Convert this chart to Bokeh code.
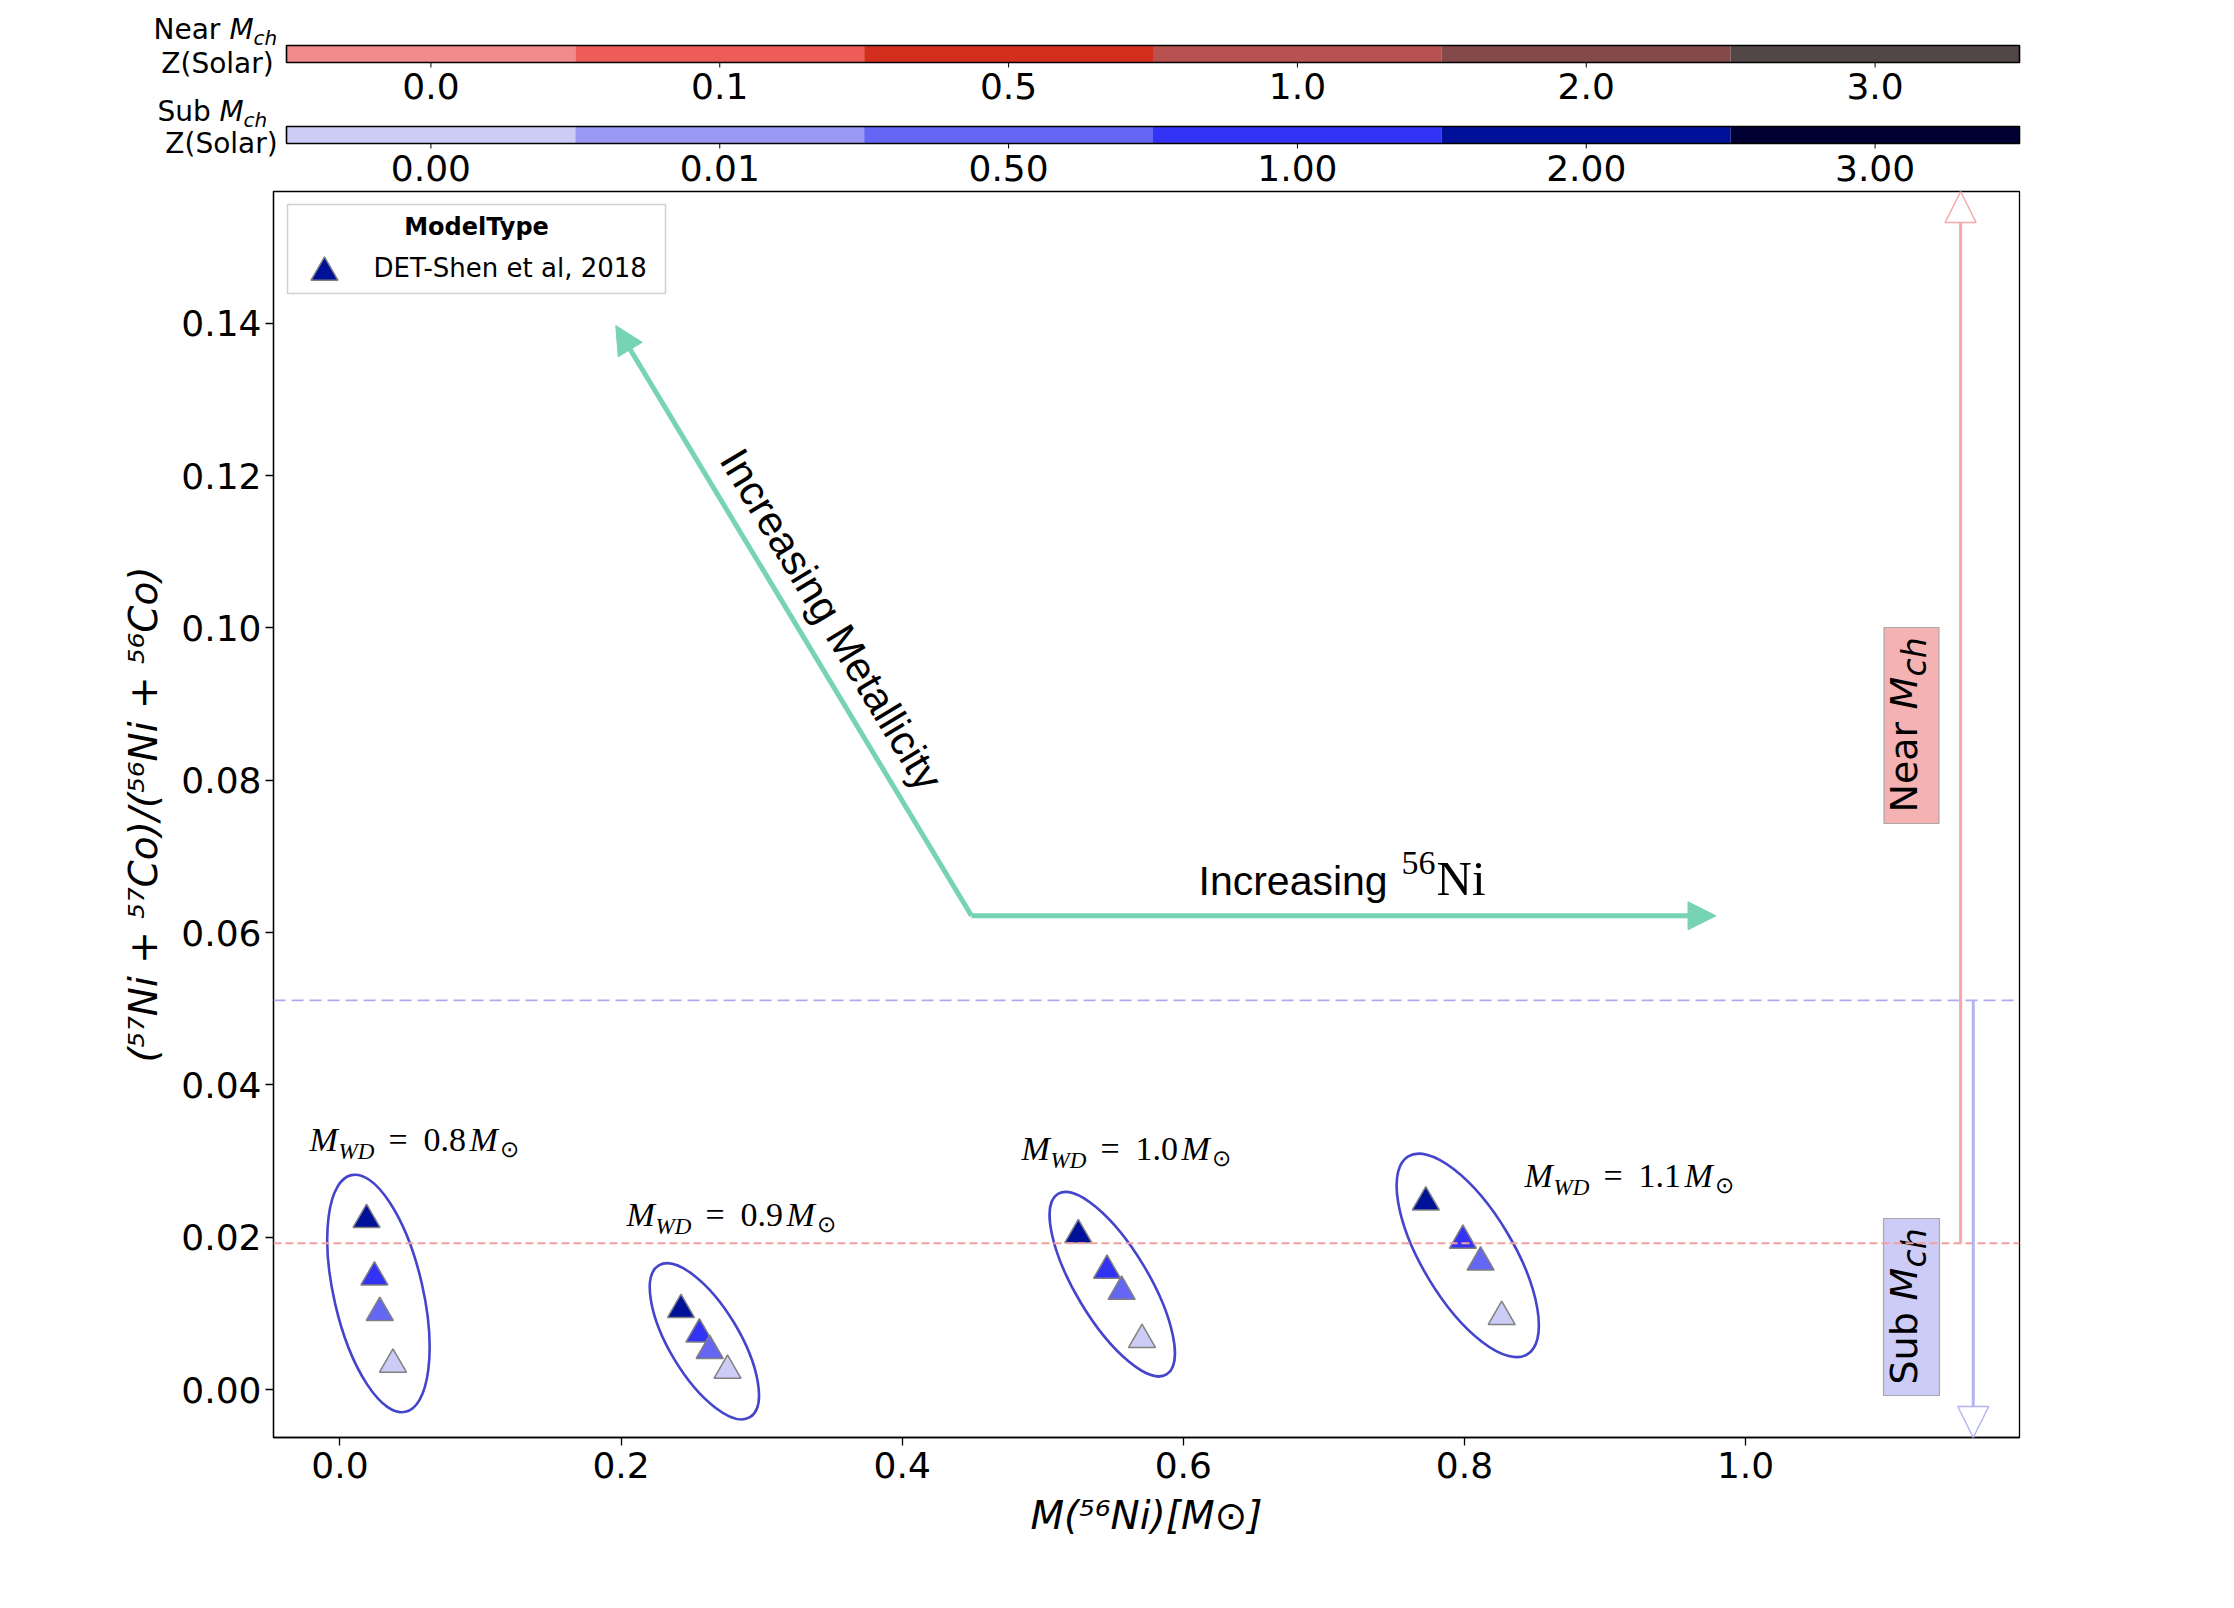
import math
from bokeh.plotting import figure
from bokeh.models import (Range1d, ColumnDataSource, Span, Arrow, NormalHead,
                          FixedTicker, PrintfTickFormatter)
from bokeh.core.properties import value
from bokeh.embed import file_html
from bokeh.resources import INLINE

# ---------------- data ----------------
mwd_labels = ["0.8", "0.9", "1.0", "1.1"]
ni56_mwd08 = [0.0189, 0.0245, 0.0283, 0.0377]
ratio_mwd08 = [0.0223, 0.01475, 0.0101, 0.0033]
ni56_mwd09 = [0.2426, 0.2557, 0.2630, 0.2757]
ratio_mwd09 = [0.01047, 0.00725, 0.0051, 0.0025]
ni56_mwd10 = [0.5253, 0.5457, 0.5561, 0.5706]
ratio_mwd10 = [0.0203, 0.01563, 0.01287, 0.00653]
ni56_mwd11 = [0.7725, 0.7989, 0.8115, 0.8265]
ratio_mwd11 = [0.0246, 0.01957, 0.0167, 0.00956]
z_solar_points = [2.0, 1.0, 0.5, 0.0]   # metallicity of the 4 models in each group

near_z_ticks = ["0.0", "0.1", "0.5", "1.0", "2.0", "3.0"]
near_colors = ["#F08C8C", "#EE5C58", "#D42E1E", "#B85250", "#844A4A", "#524646"]
sub_z_values = [0.0, 0.01, 0.5, 1.0, 2.0, 3.0]
sub_z_ticks = ["0.00", "0.01", "0.50", "1.00", "2.00", "3.00"]
sub_colors = ["#CCCCF7", "#9999F5", "#6666F5", "#3333F5", "#001199", "#000033"]

near_mch_ratio = 0.0192
sub_mch_ratio = 0.0511
near_arrow_x = 1.153
sub_arrow_x = 1.162

metal_arrow_start = (0.4493, 0.0622)
metal_arrow_end = (0.1962, 0.1397)
ni_arrow_end = (0.979, 0.0622)

x_ticks = [0.0, 0.2, 0.4, 0.6, 0.8, 1.0]
y_ticks = [0.00, 0.02, 0.04, 0.06, 0.08, 0.10, 0.12, 0.14]
X0, X1 = -0.0473, 1.1949
Y0, Y1 = -0.0063, 0.1573

legend_label = "DET-Shen et al, 2018"
legend_title = "ModelType"

# ---------------- page geometry (page px) ----------------
FIG_W = 2218
HDR_H = 190
L, R, T, B = 273, 2019, 191, 1437          # main frame
BAR_L, BAR_R = 286, 2019                   # colour bars
MID = 0.345                                # baseline -> middle shift (in em)

SANS = "DejaVu Sans"
SERIF = "Liberation Serif"
ARIAL = "Liberation Sans"


def px2d(px, py):
    x = X0 + (px - L) / (R - L) * (X1 - X0)
    y = Y1 - (py - T) / (B - T) * (Y1 - Y0)
    return x, y


def add_text(fig, pieces, font, angle=0.0, align="left"):
    # pieces: (x, y, text, xoff, baseline_yoff, size_px, style)
    src = ColumnDataSource(dict(
        x=[q[0] for q in pieces], y=[q[1] for q in pieces], text=[q[2] for q in pieces],
        xo=[q[3] for q in pieces], yo=[q[4] - MID * q[5] for q in pieces],
        fs=["%dpx" % q[5] for q in pieces], st=[q[6] for q in pieces]))
    fig.text(x="x", y="y", text="text", x_offset="xo", y_offset="yo", source=src,
             text_font=value(font), text_font_size="fs", text_font_style="st",
             text_align=align, text_baseline="middle", angle=angle, text_color="black")


# ---------------- header with the two colour bars (frame = whole canvas) ----------------
seg = (BAR_R - BAR_L) / 6.0
hdr = figure(width=FIG_W, height=HDR_H,
             x_range=Range1d(-0.5 - BAR_L / seg, 5.5 + (FIG_W - BAR_R) / seg),
             y_range=Range1d(HDR_H, 0),
             x_axis_location=None, y_axis_location=None, min_border=0,
             output_backend="svg", toolbar_location=None)
hdr.grid.visible = False
hdr.outline_line_color = None

idx = list(range(len(near_colors)))
bar_h = 17
red_y, blue_y = 53.5, 134.5
hdr.rect(x=idx, y=red_y, width=1, height=bar_h, fill_color=near_colors, line_color=None)
hdr.rect(x=idx, y=blue_y, width=1, height=bar_h, fill_color=sub_colors, line_color=None)
for yc in (red_y, blue_y):
    hdr.rect(x=2.5, y=yc, width=6, height=bar_h, fill_color=None, line_color="black", line_width=1.6)
    hdr.segment(x0=idx, y0=yc + bar_h / 2, x1=idx, y1=yc + bar_h / 2 + 5, line_color="black", line_width=1)
hdr.text(x=idx, y=98 - MID * 36, text=near_z_ticks, text_align="center", text_baseline="middle",
         text_font=value(SANS), text_font_size="36px", text_color="black")
hdr.text(x=idx, y=180 - MID * 36, text=sub_z_ticks, text_align="center", text_baseline="middle",
         text_font=value(SANS), text_font_size="36px", text_color="black")


def hx(px):
    return -0.5 + (px - BAR_L) / seg


hdr_pieces_left = []
hdr_pieces_center = []
for (px, base, txt, fs, st, al) in [(153, 39, "Near", 28, "normal", "left"),
                                    (229, 39, "M", 28, "italic", "left"),
                                    (253, 44, "ch", 20, "italic", "left"),
                                    (217, 73, "Z(Solar)", 28, "normal", "center"),
                                    (157, 121, "Sub", 28, "normal", "left"),
                                    (219, 121, "M", 28, "italic", "left"),
                                    (243, 126, "ch", 20, "italic", "left"),
                                    (221, 153, "Z(Solar)", 28, "normal", "center")]:
    piece = (hx(px), base - MID * fs, txt, 0, 0, fs, st)
    (hdr_pieces_left if al == "left" else hdr_pieces_center).append(piece)


def add_hdr_text(pieces, align):
    src = ColumnDataSource(dict(x=[q[0] for q in pieces], y=[q[1] for q in pieces],
                                text=[q[2] for q in pieces], fs=["%dpx" % q[5] for q in pieces],
                                st=[q[6] for q in pieces]))
    hdr.text(x="x", y="y", text="text", source=src, text_font=value(SANS), text_font_size="fs",
             text_font_style="st", text_align=align, text_baseline="middle", text_color="black")


add_hdr_text(hdr_pieces_left, "left")
add_hdr_text(hdr_pieces_center, "center")

# ---------------- main plot ----------------
p = figure(frame_width=R - L, frame_height=B - T, x_range=Range1d(X0, X1), y_range=Range1d(Y0, Y1),
           min_border_left=L, min_border_right=FIG_W - R, min_border_top=T - HDR_H,
           min_border_bottom=160, output_backend="svg", toolbar_location=None)
p.grid.visible = False
p.outline_line_color = "black"
p.outline_line_width = 1.3
p.xaxis.ticker = FixedTicker(ticks=x_ticks)
p.xaxis.formatter = PrintfTickFormatter(format="%.1f")
p.yaxis.ticker = FixedTicker(ticks=y_ticks)
p.yaxis.formatter = PrintfTickFormatter(format="%.2f")
p.xaxis.axis_label = "M(\u2075\u2076Ni)[M\u2299]"
p.yaxis.axis_label = "(\u2075\u2077Ni + \u2075\u2077Co)/(\u2075\u2076Ni + \u2075\u2076Co)"
for ax in (p.xaxis[0], p.yaxis[0]):
    ax.major_label_text_font = SANS
    ax.major_label_text_font_size = "36px"
    ax.major_label_text_color = "black"
    ax.axis_label_text_font = SANS
    ax.axis_label_text_font_size = "39px"
    ax.axis_label_text_font_style = "italic"
    ax.axis_label_text_color = "black"
    ax.major_tick_out = 8
    ax.major_tick_in = 0
    ax.minor_tick_out = 0
    ax.minor_tick_in = 0
    ax.axis_line_color = "black"
    ax.axis_line_width = 1.3
    ax.major_tick_line_width = 1.3
p.xaxis.major_label_standoff = 6
p.yaxis.major_label_standoff = 4
p.xaxis.axis_label_standoff = 12
p.yaxis.axis_label_standoff = 12

# threshold lines
p.add_layout(Span(location=near_mch_ratio, dimension="width", line_color="#F2A0A0",
                  line_dash="8 4", line_width=2))
p.add_layout(Span(location=sub_mch_ratio, dimension="width", line_color="#ABABEE",
                  line_dash="12 6", line_width=1.6))

# grouping ellipses (centred on each group's mean)
groups_x = [ni56_mwd08, ni56_mwd09, ni56_mwd10, ni56_mwd11]
groups_y = [ratio_mwd08, ratio_mwd09, ratio_mwd10, ratio_mwd11]
ell_w = [89, 70, 73, 91]
ell_h = [243, 177, 211, 231]
ell_a = [math.radians(12.9), math.radians(31), math.radians(31), math.radians(31)]
p.ellipse(x=[sum(g) / len(g) for g in groups_x], y=[sum(g) / len(g) for g in groups_y],
          width=ell_w, height=ell_h, angle=ell_a, width_units="screen", height_units="screen",
          fill_color=None, line_color="#4444CC", line_width=2.6)

# model points
pts_x, pts_y, pts_c = [], [], []
for gx, gy in zip(groups_x, groups_y):
    for xv, yv, zv in zip(gx, gy, z_solar_points):
        pts_x.append(xv)
        pts_y.append(yv)
        pts_c.append(sub_colors[sub_z_values.index(zv)])
p.scatter(x=pts_x, y=pts_y, marker="triangle", size=27, fill_color=pts_c,
          line_color="#808080", line_width=1.5)

# Near / Sub Mch arrows
p.add_layout(Arrow(end=NormalHead(size=31, fill_color="white", line_color="#F4A8A8", line_width=1.5),
                   x_start=near_arrow_x, y_start=near_mch_ratio, x_end=near_arrow_x, y_end=Y1,
                   line_color="#F4A8A8", line_width=3))
p.add_layout(Arrow(end=NormalHead(size=31, fill_color="white", line_color="#B4B4F4", line_width=1.5),
                   x_start=sub_arrow_x, y_start=sub_mch_ratio, x_end=sub_arrow_x, y_end=Y0,
                   line_color="#B4B4F4", line_width=3))

# Near / Sub Mch boxes
bx, by = px2d(1911, 725)
p.rect(x=bx, y=by, width=55, height=196, width_units="screen", height_units="screen",
       fill_color="#F4B2B2", line_color="#A8A8A8", line_width=1.2)
bx2, by2 = px2d(1911, 1306.5)
p.rect(x=bx2, y=by2, width=56, height=177, width_units="screen", height_units="screen",
       fill_color="#CCCCF6", line_color="#A8A8A8", line_width=1.2)
rot = []
for (px, py, txt, fs, st) in [(1917, 812, "Near", 38, "normal"), (1917, 709, "M", 38, "italic"),
                              (1925, 676, "ch", 33, "italic"),
                              (1917, 1384, "Sub", 38, "normal"), (1917, 1300, "M", 38, "italic"),
                              (1925, 1267, "ch", 33, "italic")]:
    dx, dy = px2d(px - MID * fs, py)
    rot.append((dx, dy, txt, 0, MID * fs, fs, st))
add_text(p, rot, SANS, angle=math.pi / 2)

# trend arrows
green = "#76D3B3"
p.add_layout(Arrow(end=NormalHead(size=28, fill_color=green, line_color=green),
                   x_start=metal_arrow_start[0], y_start=metal_arrow_start[1],
                   x_end=metal_arrow_end[0], y_end=metal_arrow_end[1],
                   line_color=green, line_width=5))
p.add_layout(Arrow(end=NormalHead(size=28, fill_color=green, line_color=green),
                   x_start=metal_arrow_start[0], y_start=metal_arrow_start[1],
                   x_end=ni_arrow_end[0], y_end=ni_arrow_end[1],
                   line_color=green, line_width=5))
mx, my = px2d(831, 619)
p.text(x=[mx], y=[my], text=["Increasing Metallicity"], angle=-math.radians(58.9),
       text_align="center", text_baseline="middle", text_font=value(ARIAL),
       text_font_size="42px", text_color="black")
ix, iy = px2d(1198, 895)
add_text(p, [(ix, iy, "Increasing", 0, 0, 41, "normal")], ARIAL)
add_text(p, [(ix, iy, "56", 203, -21, 34, "normal"),
             (ix, iy, "Ni", 238, 0, 49, "normal")], SERIF)

# M_WD labels
label_starts = [(309, 1151), (626, 1226), (1021, 1160), (1524, 1187)]
wd_pieces = []
for (sx, sy), mass in zip(label_starts, mwd_labels):
    ax_, ay_ = px2d(sx, sy)
    wd_pieces += [(ax_, ay_, "M", 0, 0, 34, "italic"),
                  (ax_, ay_, "WD", 29, 8, 23, "italic"),
                  (ax_, ay_, "=", 79, 0, 34, "normal"),
                  (ax_, ay_, mass, 114, 0, 34, "normal"),
                  (ax_, ay_, "M", 160, 0, 34, "italic"),
                  (ax_, ay_, "\u2299", 190, 6, 23, "normal")]
add_text(p, wd_pieces, SERIF)

# legend box (ModelType)
lx, ly = px2d(476, 248.5)
p.rect(x=lx, y=ly, width=378, height=89, width_units="screen", height_units="screen",
       fill_color="white", fill_alpha=0.85, line_color="#D0D0D0", line_width=1.5)
tx, ty = px2d(476, 235 - MID * 24)
p.text(x=tx, y=ty, text=[legend_title], text_align="center", text_baseline="middle",
       text_font=value(SANS), text_font_size="24px", text_font_style="bold", text_color="black")
gx_, gy_ = px2d(324, 272)
p.scatter(x=[gx_], y=[gy_], marker="triangle", size=27, fill_color=sub_colors[4],
          line_color="#808080", line_width=1.5)
lbx, lby = px2d(373, 276 - MID * 26)
p.text(x=lbx, y=lby, text=[legend_label], text_align="left", text_baseline="middle",
       text_font=value(SANS), text_font_size="26px", text_color="black")

# two independent roots stacked on the page (no frame alignment between them)
open("out.html", "w").write(file_html([hdr, p], INLINE))
